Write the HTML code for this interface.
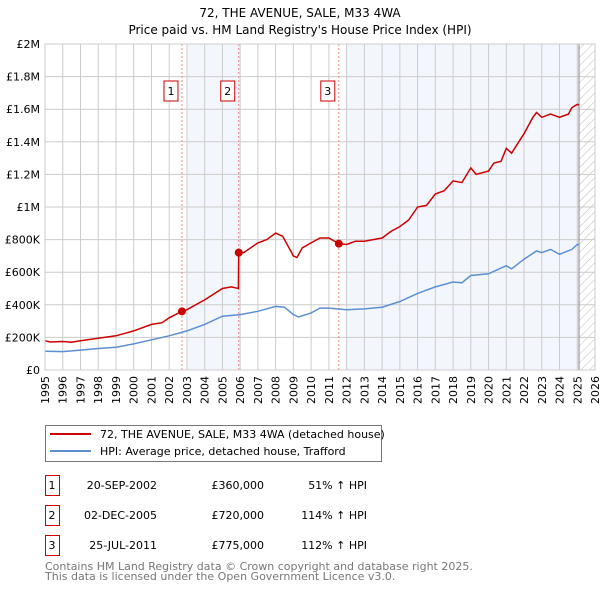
<!DOCTYPE html>
<html><head><meta charset="utf-8"><style>
body{margin:0;background:#fff;font-family:"DejaVu Sans","Liberation Sans",sans-serif}
svg text{font-family:"DejaVu Sans","Liberation Sans",sans-serif}
</style></head><body>
<svg id="chart" width="600" height="590" viewBox="0 0 600 590" xmlns="http://www.w3.org/2000/svg">
<defs><pattern id="hatch" width="6" height="6" patternUnits="userSpaceOnUse" patternTransform="rotate(45)"><line x1="0" y1="0" x2="0" y2="6" stroke="#bbb" stroke-width="1"/></pattern></defs>
<text x="300" y="17" text-anchor="middle" font-size="12">72, THE AVENUE, SALE, M33 4WA</text>
<text x="300" y="34" text-anchor="middle" font-size="12">Price paid vs. HM Land Registry's House Price Index (HPI)</text>
<g id="plot"></g>
<g>
<rect x="45.5" y="425.5" width="336" height="36" fill="#fff" stroke="#777"/>
<line x1="50" y1="434" x2="91" y2="434" stroke="#cc0000" stroke-width="2"/>
<text x="100" y="438" font-size="11">72, THE AVENUE, SALE, M33 4WA (detached house)</text>
<line x1="50" y1="451" x2="91" y2="451" stroke="#5b8fd4" stroke-width="2"/>
<text x="100" y="455" font-size="11">HPI: Average price, detached house, Trafford</text>
</g>
<g id="table" font-size="11"></g>
<text x="45" y="570" font-size="11" fill="#777">Contains HM Land Registry data © Crown copyright and database right 2025.</text>
<text x="45" y="580" font-size="11" fill="#777">This data is licensed under the Open Government Licence v3.0.</text>
</svg>
<script>
const redYears=[1995,1995.3,1996,1996.5,1997,1998,1999,2000,2001,2001.6,2002,2002.72,2003,2004,2005,2005.5,2005.9,2005.92,2006.2,2007,2007.5,2008,2008.4,2009,2009.2,2009.5,2010,2010.5,2011,2011.56,2012,2012.5,2013,2014,2014.5,2015,2015.5,2016,2016.5,2017,2017.5,2018,2018.5,2019,2019.3,2020,2020.3,2020.7,2021,2021.3,2022,2022.5,2022.7,2023,2023.5,2024,2024.5,2024.7,2025,2025.1];
const redVals=[180,172,175,170,180,195,210,240,280,290,320,360,370,430,500,510,500,720,720,780,800,840,820,700,690,750,780,810,810,775,770,790,790,810,850,880,920,1000,1010,1080,1100,1160,1150,1240,1200,1220,1270,1280,1360,1330,1450,1550,1580,1550,1570,1550,1570,1610,1630,1625];
const hpiYears=[1995,1996,1997,1998,1999,2000,2001,2002,2003,2004,2005,2006,2007,2008,2008.5,2009,2009.3,2010,2010.5,2011,2012,2013,2014,2015,2016,2017,2018,2018.5,2019,2020,2021,2021.3,2022,2022.7,2023,2023.5,2024,2024.7,2025,2025.1];
const hpiVals=[115,113,122,132,140,160,185,210,240,280,330,340,360,390,385,340,325,350,380,380,370,375,385,420,470,510,540,535,580,590,640,620,680,730,720,740,710,740,770,770];
const saleYears=[2002.72,2005.92,2011.56];
const saleVals=[360,720,775];
const saleLabels=["1","2","3"];
const saleDates=["20-SEP-2002","02-DEC-2005","25-JUL-2011"];
const salePrices=["£360,000","£720,000","£775,000"];
const saleHpi=["51% ↑ HPI","114% ↑ HPI","112% ↑ HPI"];
const yTicks=[0,200,400,600,800,1000,1200,1400,1600,1800,2000];
const yTickLabels=["£0","£200K","£400K","£600K","£800K","£1M","£1.2M","£1.4M","£1.6M","£1.8M","£2M"];

const NS="http://www.w3.org/2000/svg";
const X0=45,X1=595,Y0=370,Y1=44;
const xs=y=>X0+(y-1995)*(X1-X0)/31;
const ys=v=>Y0-v*(Y0-Y1)/2000;
const plot=document.getElementById('plot');
function mk(tag,attrs,parent){const e=document.createElementNS(NS,tag);for(const k in attrs)e.setAttribute(k,attrs[k]);(parent||plot).appendChild(e);return e;}

let r=mk('rect',{x:xs(2003),y:Y1,width:xs(2006)-xs(2003),height:Y0-Y1,fill:'#f3f6fd'});


r=mk('rect',{x:xs(2012),y:Y1,width:xs(2025.1)-xs(2012),height:Y0-Y1,fill:'#f3f6fd'});


r=mk('rect',{x:xs(2025.1),y:Y1,width:X1-xs(2025.1),height:Y0-Y1,fill:'url(#hatch)'});



for(let y=1995;y<=2026;y++){
  const l=mk('line',{x1:xs(y),x2:xs(y),y1:Y1,y2:Y0,stroke:'#ccc','stroke-width':1});
  
  
  const t=mk('text',{x:0,y:0,'font-size':11,'text-anchor':'end',transform:`translate(${xs(y)+4},376) rotate(-90)`});
  t.textContent=y;
  
  
}
yTicks.forEach((v,i)=>{
  const l=mk('line',{x1:X0,x2:X1,y1:ys(v),y2:ys(v),stroke:'#ccc','stroke-width':1});
  
  
  const t=mk('text',{x:40,y:ys(v)+4,'font-size':11,'text-anchor':'end'});
  t.textContent=yTickLabels[i];
  
  
});
let vl=mk('line',{x1:xs(2025.1),x2:xs(2025.1),y1:Y1,y2:Y0,stroke:'#888','stroke-width':1});



saleYears.forEach((y,i)=>{
  const l=mk('line',{x1:xs(y),x2:xs(y),y1:Y1,y2:Y0,stroke:'#e88','stroke-width':1,'stroke-dasharray':'2,2'});
  
  
});
function path(xa,va,color,name){
  const d=xa.map((y,i)=>(i?'L':'M')+xs(y).toFixed(1)+','+ys(va[i]).toFixed(1)).join('');
  const p=mk('path',{d,fill:'none',stroke:color,'stroke-width':1.5});
  
  
}
path(hpiYears,hpiVals,'#5b8fd4','hpi-line');
path(redYears,redVals,'#cc0000','property-price-line');
saleYears.forEach((y,i)=>{
  const c=mk('circle',{cx:xs(y),cy:ys(saleVals[i]),r:4,fill:'#cc0000'});
  
  
  const b=mk('rect',{x:xs(y)-18,y:81,width:14,height:20,fill:'#fff',stroke:'#cc0000'});
  
  
  const t=mk('text',{x:xs(y)-11,y:95,'font-size':11,'text-anchor':'middle'});
  t.textContent=saleLabels[i];
  
  
});
let bd=mk('rect',{x:X0,y:Y1,width:X1-X0,height:Y0-Y1,fill:'none',stroke:'#ccc'});



const tb=document.getElementById('table');
saleLabels.forEach((s,i)=>{
  const yy=475+i*30;
  const b=mk('rect',{x:45.5,y:yy+0.5,width:14,height:20,fill:'#fff',stroke:'#cc0000'},tb);
  
  
  const cells=[[52,'middle',s],[157,'end',saleDates[i]],[264,'end',salePrices[i]],[367,'end',saleHpi[i]]];
  cells.forEach(c=>{
    const t=mk('text',{x:c[0],y:yy+14,'text-anchor':c[1]},tb);
    t.textContent=c[2];
    
    
  });
});
</script>
</body></html>
